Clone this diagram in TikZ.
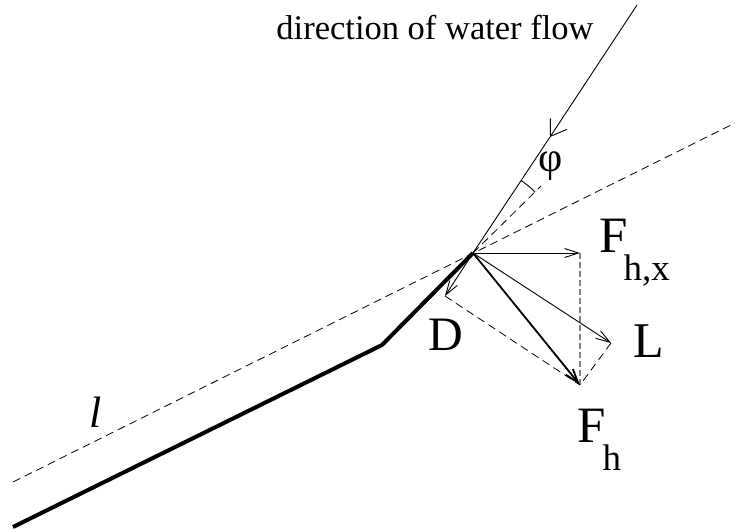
\documentclass[tikz,border=0pt]{standalone}
\usepackage{fontspec}
\setmainfont{Liberation Serif}
\usetikzlibrary{arrows.meta}
\begin{document}
\begin{tikzpicture}[x=1pt,y=-1pt,
  thinline/.style={line width=0.9pt},
  dashline/.style={line width=0.8pt, dash pattern=on 8pt off 5pt},
  greydash/.style={line width=1.5pt, draw={rgb,255:red,130;green,130;blue,130}, dash pattern=on 6pt off 3pt},
  forcearrow/.style={thinline, -{Straight Barb[length=14pt,width=9pt]}},
  flowarrow/.style={thinline, -{Straight Barb[length=15pt,width=20pt]}},
  lbl/.style={inner sep=0pt, anchor=base west}]
\useasboundingbox (0,0) rectangle (738,532);

% key points
\coordinate (P) at (473,253);
\coordinate (top) at (637,5);
\coordinate (flowmark) at (550,137);
\coordinate (chordL) at (13,482);
\coordinate (chordR) at (735,123);
\coordinate (kink) at (382,345);
\coordinate (tail) at (13,527);
\coordinate (bis) at (541,186);
\coordinate (Fx) at (580,253);
\coordinate (Fh) at (580,385);
\coordinate (Ltip) at (611,343);
\coordinate (Dtip) at (445,296);

% chord line and profile
\draw[dashline] (chordL) -- (chordR);
\draw[line width=4pt, line join=round] (tail) -- (kink) -- (P);

% flow direction
\draw[flowarrow] (top) -- (flowmark);
\draw[thinline] (flowmark) -- (P);
\draw[dashline] (P) -- (bis);
\draw[thinline] ([shift={(56.4:87pt)}]P) arc[start angle=56.4, end angle=44.5, radius=87pt];

% force parallelograms
\draw[greydash] (Fx) -- (Fh);
\draw[dashline] (Dtip) -- (Fh);
\draw[dashline] (Ltip) -- (Fh);

% forces
\draw[forcearrow] (P) -- (Fx);
\draw[forcearrow] (P) -- (Ltip);
\draw[forcearrow] (P) -- (Dtip);
\draw[line width=1.8pt, -{Straight Barb[length=14pt,width=9pt]}] (P) -- (Fh);

% labels
\node[inner sep=0pt, anchor=base] (title) at (435,40) {\fontsize{34.5}{36}\selectfont direction of water flow};
\node[inner sep=0pt] (phi) at (551,166) {\fontsize{42}{42}\selectfont φ};
\node[lbl] (Fhx) at (599,252) {\fontsize{51}{51}\selectfont F\kern-4pt\raisebox{-28pt}{\fontsize{37}{37}\selectfont h,x}};
\node[lbl] (Fhlab) at (577,442) {\fontsize{51}{51}\selectfont F\kern-3pt\raisebox{-28pt}{\fontsize{37}{37}\selectfont h}};
\node[lbl] (Dlab) at (428,350) {\fontsize{48}{48}\selectfont D};
\node[lbl] (Llab) at (633,357) {\fontsize{50}{50}\selectfont L};
\node[inner sep=0pt, anchor=base] (llab) at (96,427) {\fontsize{44}{44}\selectfont\itshape l};
\end{tikzpicture}
\end{document}
